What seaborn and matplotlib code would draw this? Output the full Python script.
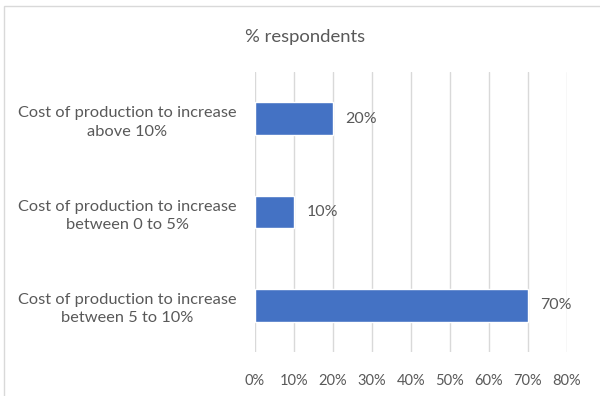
import matplotlib
matplotlib.use("Agg")
import matplotlib.pyplot as plt
import matplotlib.patches as mpatches
import seaborn as sns
import pandas as pd

categories = [
    "Cost of production to increase\nabove 10%",
    "Cost of production to increase\nbetween 0 to 5%",
    "Cost of production to increase\nbetween 5 to 10%",
]
values = [20, 10, 70]
xticks = [0, 10, 20, 30, 40, 50, 60, 70, 80]
xtick_labels = [f"{v}%" for v in xticks]
title = "% respondents"

sns.set_theme(style="white")
plt.rcParams["font.family"] = ["Lato", "DejaVu Sans"]
text_color = "#595959"

df = pd.DataFrame({"cat": categories, "val": values})

fig = plt.figure(figsize=(6.0, 3.96), dpi=100)
W, H = 600, 396
ax = fig.add_axes([255 / W, 1 - 352 / H, (567 - 255) / W, (352 - 72) / H])

sns.barplot(data=df, x="val", y="cat", orient="h", color="#4472C4",
            width=0.35, saturation=1, ax=ax)

ax.set_xlim(0, 80)
ax.set_ylim(2.5, -0.5)
ax.set_xticks(xticks)
ax.set_xticklabels(xtick_labels)
ax.xaxis.grid(True, color="#D9D9D9", linewidth=1)
ax.yaxis.grid(False)
ax.set_axisbelow(True)
for s in ax.spines.values():
    s.set_visible(False)
ax.set_xlabel("")
ax.set_ylabel("")

ax.tick_params(axis="x", length=0, pad=16, labelsize=10.5, labelcolor=text_color)
ax.tick_params(axis="y", length=0, pad=92, labelsize=11.8, labelcolor=text_color)
for lab in ax.get_yticklabels():
    lab.set_horizontalalignment("center")
    lab.set_multialignment("center")
    lab.set_linespacing(1.4)

for c in ax.containers:
    ax.bar_label(c, labels=[f"{v}%" for v in values], padding=9,
                 fontsize=11.5, color=text_color)

fig.suptitle(title, x=305 / W, y=1 - 37 / H, va="center", fontsize=13.3,
             color=text_color)

rect = mpatches.Rectangle((4 / W, -0.05), 1.2, 1 - 6 / H + 0.05,
                          transform=fig.transFigure, fill=False,
                          edgecolor="#D9D9D9", linewidth=1)
fig.patches.append(rect)

fig.savefig("out.png", dpi=100, facecolor="white")
